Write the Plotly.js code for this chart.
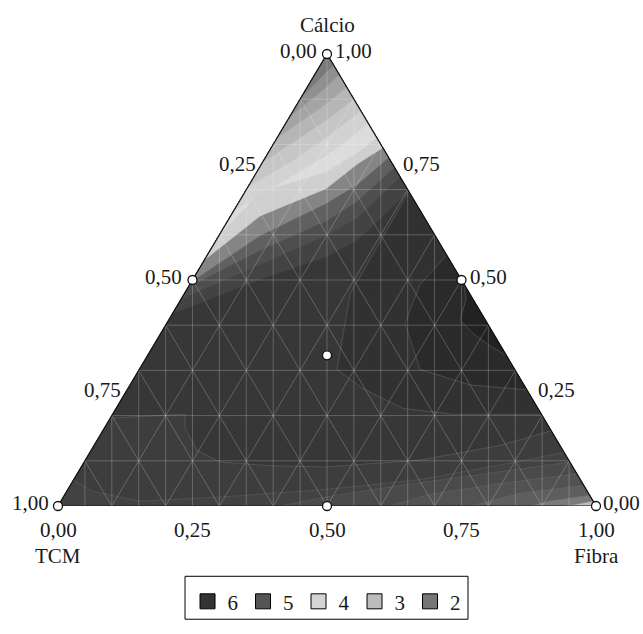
<!DOCTYPE html>
<html><head><meta charset="utf-8">
<script src="https://cdn.plot.ly/plotly-3.0.1.min.js"></script>
<style>html,body{margin:0;padding:0;background:#fff}</style>
</head><body><div id="chart" style="width:643px;height:634px"></div>
<script>
// ---------- DATA (mixture fractions: Cálcio, Fibra; TCM = 1 - Cálcio - Fibra) ----------
const designCalcio = [1, 0, 0, 0.5, 0.5, 0, 1/3];
const designFibra  = [0, 0, 1, 0, 0.5, 0.5, 1/3];

// upper contour lines (left edge -> right edge), region above each is filled
const upperCalcio = [
  [0.4255, 0.5011, 0.5508, 0.5875, 0.6955],
  [0.4579, 0.5335, 0.5983, 0.6371, 0.7279],
  [0.4838, 0.5659, 0.6307, 0.6739, 0.7495],
  [0.4968, 0.5983, 0.6695, 0.7106, 0.7711],
  [0.5443, 0.6415, 0.7019, 0.7559, 0.7927],
  [0.5983, 0.6955, 0.7387, 0.7819, 0.8143],
  [0.6523, 0.7754, 0.8143, 0.8467],
  [0.7063, 0.7603, 0.8143, 0.8747],
  [0.7603, 0.8531, 0.9006],
  [0.8143, 0.8898, 0.9266],
  [0.8618, 0.9266, 0.9546],
  [0.9050, 0.9611, 0.9762]
];
const upperFibra = [
  [0, 0.1250, 0.2227, 0.2620, 0.3045],
  [0, 0.1088, 0.1990, 0.2372, 0.2721],
  [0, 0.0926, 0.1828, 0.2189, 0.2505],
  [0, 0.0764, 0.1633, 0.2005, 0.2289],
  [0, 0.0548, 0.1471, 0.1778, 0.2073],
  [0, 0.0278, 0.1288, 0.1649, 0.1857],
  [0, 0.1104, 0.1357, 0.1533],
  [0, 0.0511, 0.0910, 0.1253],
  [0, 0.0715, 0.0994],
  [0, 0.0532, 0.0734],
  [0, 0.0348, 0.0454],
  [0, 0.0175, 0.0238]
];
const upperColors = ['#434343','#4e4e4e','#606060','#858585','#cfcfcf','#dcdcdc',
                     '#d2d2d2','#c6c6c6','#b6b6b6','#a4a4a4','#909090','#7a7a7a'];

// interior closed regions
const innerCalcio = [
  [0.1944, 0.2030, 0.1728, 0.1231, 0.0972, 0.0886, 0.0864, 0.1015, 0.1339, 0.1663, 1.0, 0.4147],
  [0.6955, 0.4687, 0.3024, 0.2592, 0.2160, 0.2030, 0.2030],
  [0.5551, 0.4903, 0.4039, 0.3024, 0.2678, 0.2570],
  [0.4903, 0.4579, 0.4104, 0.3780, 0.3542, 0.3326]
];
const innerFibra = [
  [0, 0.1346, 0.1497, 0.1968, 0.2525, 0.3553, 0.4568, 0.6221, 0.7546, 0.8337, 0, 0],
  [0.3045, 0.3085, 0.3674, 0.4373, 0.5333, 0.6327, 0.7970],
  [0.4449, 0.4278, 0.4431, 0.5217, 0.6319, 0.7430],
  [0.5097, 0.5295, 0.5420, 0.5861, 0.6259, 0.6674]
];
const innerColors = ['#373737', '#313131', '#2a2a2a', '#222222'];

// lower contour lines, region below each is filled
const lowerCalcio = [
  [0.0583, 0.0324, 0.0108, 0.0194, 0.0367, 0.0583, 0.0907, 0.1188],
  [0.0972, 0.0691, 0.0454, 0.0216, 0],
  [0.0713, 0.0497, 0.0259, 0],
  [0.0454, 0.0281, 0],
  [0.0238, 0.0108, 0],
  [0.0108, 0.0032, 0]
];
const lowerFibra = [
  [0, 0.0470, 0.1470, 0.2858, 0.4816, 0.6437, 0.7762, 0.8812],
  [0.9028, 0.7498, 0.6130, 0.4948, 0.4126],
  [0.9287, 0.7968, 0.6785, 0.6171],
  [0.9546, 0.8447, 0.7658],
  [0.9762, 0.9091, 0.8773],
  [0.9892, 0.9594, 0.9331]
];
const lowerColors = ['#424242','#4a4a4a','#525252','#5e5e5e','#7a7a7a','#bdbdbd'];

const tickValues = [0, 0.25, 0.5, 0.75, 1];
const tickLabels = ['0,00', '0,25', '0,50', '0,75', '1,00'];
const legendLevels = ['6', '5', '4', '3', '2'];
const legendColors = ['#333333', '#555555', '#d4d4d4', '#bcbcbc', '#777777'];

// ---------- helpers ----------
const X = (c, f) => f + c / 2;   // horizontal position in the triangle
const Y = (c, f) => c;           // vertical position = Cálcio share
function poly(cs, fs, closeC, closeF) {
  const xs = [], ys = [];
  cs.forEach((c, i) => { xs.push(X(c, fs[i])); ys.push(Y(c, fs[i])); });
  (closeC || []).forEach((c, i) => { xs.push(X(c, closeF[i])); ys.push(Y(c, closeF[i])); });
  xs.push(xs[0]); ys.push(ys[0]);
  return {xs, ys};
}
const traces = [];
function fillTrace(p, color, lineColor, lw) {
  traces.push({type: 'scatter', mode: 'lines', x: p.xs, y: p.ys, fill: 'toself',
    fillcolor: color, line: {color: lineColor || color, width: lw === undefined ? 0.5 : lw},
    hoverinfo: 'skip', showlegend: false});
}
// base triangle
fillTrace(poly([1, 0, 0], [0, 0, 1]), '#3d3d3d');
// interior
innerCalcio.forEach((cs, i) => fillTrace(poly(cs, innerFibra[i]), innerColors[i], 'rgba(110,110,110,0.6)', 0.8));
// lower system
lowerCalcio.forEach((cs, i) => {
  const p = i === 0 ? poly(cs, lowerFibra[i], [0, 0], [1, 0]) : poly(cs, lowerFibra[i], [0], [1]);
  fillTrace(p, lowerColors[i], 'rgba(120,120,120,0.5)', 0.6);
});
// upper system
upperCalcio.forEach((cs, i) => fillTrace(poly(cs, upperFibra[i], [1], [0]), upperColors[i], upperColors[i], 0.5));

// mesh lines
const gx = [], gy = [];
for (let k = 1; k < 20; k++) {           // vertical
  const x = k / 20, top = x <= 0.5 ? 2 * x : 2 * (1 - x);
  gx.push(x, x, null); gy.push(0, top, null);
}
for (let k = 1; k < 10; k++) {
  const v = k / 10;
  gx.push(v / 2, 1 - v / 2, null); gy.push(v, v, null);                 // constant Cálcio
  gx.push(X(0, v), X(1 - v, v), null); gy.push(0, 1 - v, null);         // constant Fibra
  gx.push(X(0, 1 - v), X(1 - v, 0), null); gy.push(0, 1 - v, null);     // constant TCM
}
traces.push({type: 'scatter', mode: 'lines', x: gx, y: gy, line: {color: 'rgba(255,255,255,0.28)', width: 0.8},
  hoverinfo: 'skip', showlegend: false});

// outline
const o = poly([1, 0, 0], [0, 0, 1]);
traces.push({type: 'scatter', mode: 'lines', x: o.xs, y: o.ys, line: {color: '#111', width: 1.2},
  cliponaxis: false, hoverinfo: 'skip', showlegend: false});

// design points
traces.push({type: 'scatter', mode: 'markers',
  x: designCalcio.map((c, i) => X(c, designFibra[i])), y: designCalcio.map((c, i) => Y(c, designFibra[i])),
  marker: {size: 9, color: '#fff', line: {color: '#111', width: 1.3}}, cliponaxis: false,
  hoverinfo: 'skip', showlegend: false});

// legend entries
legendLevels.forEach((lv, i) => traces.push({type: 'scatter', mode: 'markers', x: [null], y: [null], name: lv,
  marker: {symbol: 'square', size: 15, color: legendColors[i], line: {color: '#000', width: 1}}}));

// ---------- labels ----------
const font = {family: 'Liberation Serif, Times New Roman, serif', size: 21, color: '#1a1a1a'};
const ann = [];
function A(text, c, f, xanchor, yanchor, xs, ys) {
  ann.push({text, x: X(c, f), y: Y(c, f), xref: 'x', yref: 'y', showarrow: false,
    xanchor, yanchor, xshift: xs, yshift: ys, font});
}
// left edge: TCM values (TCM = 1 at bottom-left)
tickValues.forEach((t, i) => {
  if (t === 0) A(tickLabels[i], 1, 0, 'right', 'middle', -8, 3);
  else if (t === 1) A(tickLabels[i], 0, 0, 'right', 'middle', -7, 3);
  else A(tickLabels[i], 1 - t, 0, 'right', 'middle', t === 0.5 ? -9 : -2, 3);
});
// right edge: Cálcio values
tickValues.forEach((c, i) => {
  if (c === 1) A(tickLabels[i], 1, 0, 'left', 'middle', 6, 3);
  else if (c === 0) A(tickLabels[i], 0, 1, 'left', 'middle', 5, 3);
  else A(tickLabels[i], c, 1 - c, 'left', 'middle', c === 0.5 ? 6 : 7, 3);
});
// bottom edge: Fibra values
tickValues.forEach((f, i) => A(tickLabels[i], 0, f, 'center', 'middle', 0, -24));
A('Cálcio', 1, 0, 'center', 'middle', 0, 29);
A('TCM', 0, 0, 'center', 'middle', 0, -50);
A('Fibra', 0, 1, 'center', 'middle', 0, -50);

const layout = {
  width: 643, height: 634, paper_bgcolor: '#fff', plot_bgcolor: 'rgba(0,0,0,0)',
  margin: {l: 58, r: 47, t: 54, b: 117},
  xaxis: {range: [0, 1], visible: false, fixedrange: true},
  yaxis: {range: [0, 1], visible: false, fixedrange: true},
  showlegend: true,
  legend: {orientation: 'h', x: 0.4991, xanchor: 'center', y: -0.1663, yanchor: 'top',
    bgcolor: 'rgba(0,0,0,0)', borderwidth: 0, font, itemclick: false, traceorder: 'normal'},
  shapes: [{type: 'rect', xref: 'paper', yref: 'paper', x0: 0.2361, x1: 0.7621, y0: -0.1555, y1: -0.2505,
    line: {color: '#000', width: 1}, fillcolor: 'rgba(0,0,0,0)'}],
  annotations: ann
};
Plotly.newPlot('chart', traces, layout, {displayModeBar: false, staticPlot: true});
</script></body></html>
